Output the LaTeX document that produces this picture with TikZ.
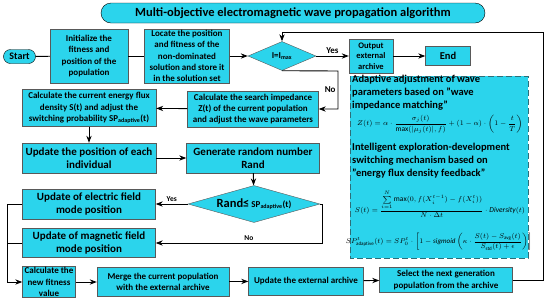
\documentclass[tikz,border=0pt]{standalone}
\usepackage{amsmath}
\usepackage{fontspec}
\setmainfont{Carlito}
\usepackage{xcolor}
\usepackage{tikz}
\usetikzlibrary{arrows.meta,shapes,positioning}
\definecolor{wavecyan}{RGB}{43,212,236}
\definecolor{panelrim}{RGB}{45,110,120}

\begin{document}
\begin{tikzpicture}[x=1pt,y=-1pt,>=Stealth,
box/.style={draw=gray!70!black,fill=wavecyan,align=center,inner sep=1pt,font=\bfseries\fontsize{9}{11.2}\selectfont},
bigbox/.style={box,font=\bfseries\fontsize{11}{13}\selectfont},
lab/.style={font=\bfseries\fontsize{7.5}{9}\selectfont,inner sep=2pt},
formula/.style={font=\fontsize{7.5}{9}\selectfont,inner sep=0pt},
flow/.style={line width=0.9pt}]
\useasboundingbox(0,0)rectangle(550,301);
\node[box,draw=black,rounded corners=10pt,minimum width=384pt,minimum height=20pt,font=\bfseries\fontsize{12.5}{14}\selectfont](title)at(293,13){Multi-objective electromagnetic wave propagation algorithm};
\node[box,draw=black,rounded corners=7pt,minimum width=32pt,minimum height=14pt,font=\bfseries\fontsize{10}{12}\selectfont](start)at(19.5,56.5){Start};
\node[box,minimum width=78pt,minimum height=54pt](init)at(89,56){Initialize the\\fitness and\\position of the\\population};
\node[box,minimum width=85pt,minimum height=54pt](locate)at(187,56){Locate the position\\and fitness of the\\non-dominated\\solution and store it\\in the solution set};
\node[box,diamond,aspect=2.3,inner sep=0pt,minimum width=68pt,minimum height=29pt](dia)at(282,56){I=I\textsubscript{max}};
\node[box,minimum width=44pt,minimum height=34pt,font=\bfseries\fontsize{8.5}{10.5}\selectfont](out)at(371,56){Output\\external\\archive};
\node[box,minimum width=45pt,minimum height=19pt,font=\bfseries\fontsize{10.5}{12}\selectfont](finish)at(448,56){End};
\node[box,minimum width=131pt,minimum height=36pt](impedance)at(253,109){Calculate the search impedance\\Z(t) of the current population\\and adjust the wave parameters};
\node[box,minimum width=134pt,minimum height=37pt](energy)at(89,108){Calculate the current energy flux\\density S(t) and adjust the\\switching probability SP\textsubscript{adaptive}(t)};
\node[bigbox,minimum width=134pt,minimum height=30pt](update)at(89,158){Update the position of each\\individual};
\node[bigbox,minimum width=133pt,minimum height=30pt](random)at(253,158){Generate random number\\Rand};
\node[box,diamond,aspect=3.6,inner sep=0pt,minimum width=132pt,minimum height=37pt](rand)at(254,204){{\fontsize{12.5}{14}\selectfont Rand≤} SP\textsubscript{adaptive}(t)};
\node[bigbox,minimum width=133pt,minimum height=30pt](electric)at(89,204){Update of electric field\\mode position};
\node[bigbox,minimum width=133pt,minimum height=29pt](magnetic)at(89,243){Update of magnetic field\\mode position};
\node[box,minimum width=53pt,minimum height=30pt](fitness)at(49,282){Calculate the\\new fitness\\value};
\node[box,minimum width=132pt,minimum height=29pt](merge)at(163,282){Merge the current population\\with the external archive};
\node[box,minimum width=115pt,minimum height=28pt](archive)at(306,281){Update the external archive};
\node[box,minimum width=133pt,minimum height=25pt](select)at(446,280){Select the next generation\\population from the archive};
\draw[panelrim,fill=wavecyan,line width=0.9pt,dash pattern=on 6pt off 3pt](350,76)rectangle(528,258);
\node[anchor=west,align=left,inner sep=0pt,font=\bfseries\fontsize{10.5}{13}\selectfont](wavetext)at(352,93){Adaptive adjustment of wave\\parameters based on "wave\\impedance matching"};
\node[formula](zform)at(440,124){$\displaystyle Z(t)=\alpha\cdot\frac{\sigma_j(t)}{\max(|\mu_j(t)|,f)}+(1-\alpha)\cdot\left(1-\frac{t}{T}\right)$};
\node[anchor=west,align=left,inner sep=0pt,font=\bfseries\fontsize{10.5}{13}\selectfont](fluxtext)at(352,161){Intelligent exploration-development\\switching mechanism based on\\"energy flux density feedback"};
\node[formula](sform)at(440,204){$\displaystyle S(t)=\frac{\sum\limits_{i=1}^{N}\max(0,f(X_i^{t-1})-f(X_i^{t}))}{N\cdot\Delta t}\cdot\mathit{Diversity}(t)$};
\node[formula,font=\fontsize{7}{8.5}\selectfont](spform)at(439,242){$\displaystyle SP^{t}_{\mathrm{adaptive}}(t)=SP^{t}_{0}\cdot\left[1-\mathit{sigmoid}\left(\kappa\cdot\frac{S(t)-S_{\mathrm{avg}}(t)}{S_{\mathrm{std}}(t)+\epsilon}\right)\right]$};
\coordinate(nobend)at(338,71);
\coordinate(loopcorner)at(543,32);
\coordinate(bus)at(7,204);
\draw[flow](start)--(init);
\draw[flow](init)--(locate);
\draw[flow,->](locate)--(dia);
\draw[flow,->](dia)--node[lab,above,font=\bfseries\fontsize{9}{10}\selectfont]{Yes}(out);
\draw[flow,->](out)--(finish);
\draw[flow,->](dia.south)--(nobend)|-node[lab,pos=0.25,left,font=\bfseries\fontsize{9}{10}\selectfont]{No}(impedance.east);
\draw[flow,->](impedance)--(energy);
\draw[flow,->](energy)--(update);
\draw[flow,->](update)--(random);
\draw[flow,->](random)--(rand);
\draw[flow,->](rand)--node[lab,above]{Yes}(electric);
\draw[flow,->](rand.east)--++(2,0)|-node[lab,pos=0.72,above]{No}(magnetic.east);
\draw[flow](electric.west)--(bus);
\draw[flow](magnetic.west)--(magnetic.west-|bus);
\draw[flow,->](bus)|-(fitness.west);
\draw[flow,->](fitness)--(merge);
\draw[flow,->](merge)--(archive);
\draw[flow,->](archive)--(select);
\draw[flow,->](select.east)-|(loopcorner)-|(dia.north);
\end{tikzpicture}
\end{document}
